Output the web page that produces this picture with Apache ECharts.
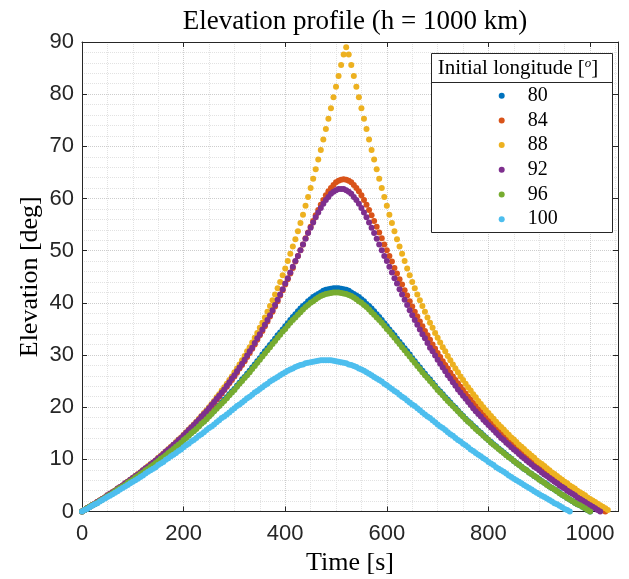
<!DOCTYPE html>
<html><head><meta charset="utf-8">
<script src="https://cdn.jsdelivr.net/npm/echarts@6/dist/echarts.min.js"></script>
<style>html,body{margin:0;padding:0;background:#fff}#c{width:629px;height:579px}</style>
</head><body><div id="c"></div>
<script>
const TITLE = 'Elevation profile (h = 1000 km)';
const X_NAME = 'Time [s]';
const Y_NAME = 'Elevation [deg]';
const X_TICKS = [0, 200, 400, 600, 800, 1000];
const Y_TICKS = [0, 10, 20, 30, 40, 50, 60, 70, 80, 90];
const LONGITUDES = ['80', '84', '88', '92', '96', '100'];
const COLORS = ['#0072BD', '#D95319', '#EDB120', '#7E2F8E', '#77AC30', '#4DBEEE'];

const TIME = [
0,5,10,15,20,25,30,35,40,45,50,55,60,65,70,75,80,85,90,95,
100,105,110,115,120,125,130,135,140,145,150,155,160,165,170,175,180,185,190,195,
200,205,210,215,220,225,230,235,240,245,250,255,260,265,270,275,280,285,290,295,
300,305,310,315,320,325,330,335,340,345,350,355,360,365,370,375,380,385,390,395,
400,405,410,415,420,425,430,435,440,445,450,455,460,465,470,475,480,485,490,495,
500,505,510,515,520,525,530,535,540,545,550,555,560,565,570,575,580,585,590,595,
600,605,610,615,620,625,630,635,640,645,650,655,660,665,670,675,680,685,690,695,
700,705,710,715,720,725,730,735,740,745,750,755,760,765,770,775,780,785,790,795,
800,805,810,815,820,825,830,835,840,845,850,855,860,865,870,875,880,885,890,895,
900,905,910,915,920,925,930,935,940,945,950,955,960,965,970,975,980,985,990,995,
1000,1005,1010,1015,1020,1025,1030,1035
];

const LON80 = [
0.0,0.3,0.6,0.9,1.2,1.4,1.7,2.0,2.3,2.6,
2.9,3.2,3.6,3.9,4.2,4.5,4.8,5.2,5.5,5.8,
6.2,6.5,6.8,7.2,7.5,7.9,8.2,8.6,9.0,9.3,
9.7,10.1,10.5,10.9,11.3,11.7,12.1,12.5,12.9,13.3,
13.7,14.2,14.6,15.1,15.5,16.0,16.4,16.9,17.3,17.8,
18.3,18.8,19.3,19.9,20.3,20.9,21.4,21.9,22.5,23.0,
23.5,24.1,24.7,25.3,25.8,26.4,27.0,27.6,28.2,28.8,
29.4,30.1,30.7,31.3,31.9,32.5,33.1,33.8,34.3,34.9,
35.5,36.1,36.7,37.3,37.8,38.4,38.9,39.4,39.8,40.3,
40.7,41.1,41.4,41.7,42.0,42.3,42.5,42.6,42.7,42.8,
42.8,
42.8,42.7,42.6,42.5,42.3,42.0,41.7,41.4,41.1,40.7,
40.3,39.8,39.4,38.9,38.4,37.8,37.3,36.7,36.1,35.5,
34.9,34.3,33.8,33.1,32.5,31.9,31.3,30.7,30.1,29.4,
28.8,28.2,27.6,27.0,26.4,25.8,25.3,24.7,24.1,23.5,
23.0,22.5,21.9,21.4,20.9,20.3,19.9,19.3,18.8,18.3,
17.8,17.3,16.9,16.4,16.0,15.5,15.1,14.6,14.2,13.7,
13.3,12.9,12.5,12.1,11.7,11.3,10.9,10.5,10.1,9.7,
9.3,9.0,8.6,8.2,7.9,7.5,7.2,6.8,6.5,6.2,
5.8,5.5,5.2,4.8,4.5,4.2,3.9,3.6,3.2,2.9,
2.6,2.3,2.0,1.7,1.4,1.2,0.9,0.6,0.3,0.0
];

const LON84 = [
0.0,0.3,0.6,
0.9,1.2,1.5,1.8,2.1,2.4,2.7,3.0,3.3,3.7,
4.0,4.3,4.6,5.0,5.3,5.7,6.0,6.4,6.7,7.1,
7.5,7.8,8.2,8.6,9.0,9.3,9.7,10.1,10.5,11.0,
11.4,11.8,12.2,12.7,13.1,13.6,14.0,14.5,15.0,15.4,
15.9,16.4,16.9,17.5,18.0,18.5,19.1,19.6,20.2,20.8,
21.4,22.0,22.6,23.3,23.9,24.6,25.2,25.9,26.6,27.4,
28.1,28.8,29.6,30.4,31.2,32.0,32.9,33.8,34.6,35.5,
36.4,37.4,38.3,39.3,40.3,41.4,42.4,43.5,44.5,45.6,
46.7,47.9,49.0,50.1,51.2,52.4,53.5,54.6,55.7,56.8,
57.8,58.8,59.7,60.6,61.4,62.0,62.6,63.1,63.4,63.6,
63.7,
63.6,63.4,63.1,62.6,62.0,61.4,60.6,59.7,58.8,57.8,
56.8,55.7,54.6,53.5,52.4,51.2,50.1,49.0,47.9,46.7,
45.6,44.5,43.5,42.4,41.4,40.3,39.3,38.3,37.4,36.4,
35.5,34.6,33.8,32.9,32.0,31.2,30.4,29.6,28.8,28.1,
27.4,26.6,25.9,25.2,24.6,23.9,23.3,22.6,22.0,21.4,
20.8,20.2,19.6,19.1,18.5,18.0,17.5,16.9,16.4,15.9,
15.4,15.0,14.5,14.0,13.6,13.1,12.7,12.2,11.8,11.4,
11.0,10.5,10.1,9.7,9.3,9.0,8.6,8.2,7.8,7.5,
7.1,6.7,6.4,6.0,5.7,5.3,5.0,4.6,4.3,4.0,
3.7,3.3,3.0,2.7,2.4,2.1,1.8,1.5,1.2,0.9,
0.6,0.3,0.0
];

const LON88 = [
0.0,0.3,0.6,0.9,1.2,1.5,1.8,2.1,2.4,2.7,
3.1,3.4,3.7,4.0,4.4,4.7,5.0,5.4,5.7,6.1,
6.4,6.8,7.2,7.5,7.9,8.3,8.7,9.1,9.4,9.8,
10.3,10.7,11.1,11.5,12.0,12.4,12.8,13.3,13.8,14.2,
14.7,15.2,15.7,16.2,16.7,17.2,17.8,18.3,18.9,19.4,
20.0,20.6,21.2,21.9,22.5,23.2,23.8,24.5,25.2,25.9,
26.7,27.4,28.2,29.0,29.8,30.7,31.5,32.4,33.3,34.2,
35.2,36.2,37.2,38.3,39.4,40.5,41.6,42.8,44.0,45.3,
46.6,48.0,49.4,50.8,52.2,53.7,55.3,56.9,58.6,60.3,
62.0,63.8,65.6,67.5,69.3,71.3,73.3,75.3,77.3,79.4,
81.4,83.5,85.6,87.6,
89.0,
87.6,85.6,83.5,81.4,79.4,77.3,75.3,73.3,71.3,69.3,
67.5,65.6,63.8,62.0,60.3,58.6,56.9,55.3,53.7,52.2,
50.8,49.4,48.0,46.6,45.3,44.0,42.8,41.6,40.5,39.4,
38.3,37.2,36.2,35.2,34.2,33.3,32.4,31.5,30.7,29.8,
29.0,28.2,27.4,26.7,25.9,25.2,24.5,23.8,23.2,22.5,
21.9,21.2,20.6,20.0,19.4,18.9,18.3,17.8,17.2,16.7,
16.2,15.7,15.2,14.7,14.2,13.8,13.3,12.8,12.4,12.0,
11.5,11.1,10.7,10.3,9.8,9.4,9.1,8.7,8.3,7.9,
7.5,7.2,6.8,6.4,6.1,5.7,5.4,5.0,4.7,4.4,
4.0,3.7,3.4,3.1,2.7,2.4,2.1,1.8,1.5,1.2,
0.9,0.6,0.3
];

const LON92 = [
0.0,0.3,
0.6,0.9,1.2,1.5,1.8,2.1,2.4,2.7,3.1,3.4,
3.7,4.0,4.4,4.7,5.0,5.4,5.7,6.1,6.4,6.8,
7.1,7.5,7.9,8.3,8.6,9.0,9.4,9.8,10.2,10.6,
11.0,11.5,11.9,12.3,12.8,13.2,13.7,14.1,14.6,15.1,
15.6,16.1,16.6,17.1,17.6,18.2,18.7,19.2,19.8,20.4,
21.0,21.6,22.2,22.8,23.4,24.1,24.8,25.5,26.1,26.9,
27.6,28.3,29.1,29.9,30.7,31.4,32.3,33.2,34.0,34.9,
35.8,36.7,37.6,38.6,39.6,40.6,41.6,42.6,43.7,44.7,
45.8,46.9,48.0,49.0,50.1,51.2,52.3,53.4,54.4,55.4,
56.4,57.3,58.2,59.0,59.7,60.3,60.9,61.3,61.6,61.8,
61.8,
61.8,61.6,61.3,60.9,60.3,59.7,59.0,58.2,57.3,56.4,
55.4,54.4,53.4,52.3,51.2,50.1,49.0,48.0,46.9,45.8,
44.7,43.7,42.6,41.6,40.6,39.6,38.6,37.6,36.7,35.8,
34.9,34.0,33.2,32.3,31.4,30.7,29.9,29.1,28.3,27.6,
26.9,26.1,25.5,24.8,24.1,23.4,22.8,22.2,21.6,21.0,
20.4,19.8,19.2,18.7,18.2,17.6,17.1,16.6,16.1,15.6,
15.1,14.6,14.1,13.7,13.2,12.8,12.3,11.9,11.5,11.0,
10.6,10.2,9.8,9.4,9.0,8.6,8.3,7.9,7.5,7.1,
6.8,6.4,6.1,5.7,5.4,5.0,4.7,4.4,4.0,3.7,
3.4,3.1,2.7,2.4,2.1,1.8,1.5,1.2,0.9,0.6,
0.3,0.0
];

const LON96 = [
0.0,0.3,0.6,0.9,1.2,1.4,1.7,2.0,2.3,2.6,
2.9,3.2,3.5,3.9,4.2,4.5,4.8,5.1,5.5,5.8,
6.1,6.5,6.8,7.2,7.5,7.9,8.2,8.6,8.9,9.3,
9.7,10.1,10.4,10.8,11.2,11.6,12.0,12.4,12.8,13.2,
13.7,14.1,14.5,15.0,15.4,15.8,16.3,16.8,17.2,17.7,
18.2,18.7,19.2,19.7,20.2,20.7,21.2,21.7,22.3,22.8,
23.3,23.9,24.5,25.0,25.6,26.1,26.7,27.3,27.9,28.5,
29.1,29.7,30.3,30.9,31.5,32.1,32.7,33.3,33.9,34.5,
35.0,35.6,36.2,36.7,37.2,37.7,38.2,38.7,39.2,39.6,
40.0,40.3,40.7,41.0,41.3,41.5,41.7,41.8,41.9,42.0,
42.0,
42.0,41.9,41.8,41.7,41.5,41.3,41.0,40.7,40.3,40.0,
39.6,39.2,38.7,38.2,37.7,37.2,36.7,36.2,35.6,35.0,
34.5,33.9,33.3,32.7,32.1,31.5,30.9,30.3,29.7,29.1,
28.5,27.9,27.3,26.7,26.1,25.6,25.0,24.5,23.9,23.3,
22.8,22.3,21.7,21.2,20.7,20.2,19.7,19.2,18.7,18.2,
17.7,17.2,16.8,16.3,15.8,15.4,15.0,14.5,14.1,13.7,
13.2,12.8,12.4,12.0,11.6,11.2,10.8,10.4,10.1,9.7,
9.3,8.9,8.6,8.2,7.9,7.5,7.2,6.8,6.5,6.1,
5.8,5.5,5.1,4.8,4.5,4.2,3.9,3.5,3.2,2.9,
2.6,2.3,2.0,1.7,1.4,1.2,0.9,0.6,0.3,0.0
];

const LON100 = [
0.0,0.3,0.5,0.8,1.1,1.4,
1.6,1.9,2.2,2.5,2.8,3.0,3.3,3.6,3.9,4.2,
4.5,4.8,5.1,5.4,5.7,6.0,6.3,6.6,6.9,7.3,
7.6,7.9,8.2,8.5,8.9,9.2,9.5,9.9,10.2,10.6,
10.9,11.2,11.6,11.9,12.3,12.7,13.0,13.4,13.7,14.1,
14.5,14.8,15.2,15.6,16.0,16.3,16.7,17.1,17.5,17.9,
18.2,18.6,19.0,19.4,19.8,20.2,20.5,20.9,21.3,21.7,
22.0,22.4,22.8,23.1,23.5,23.8,24.2,24.5,24.9,25.2,
25.5,25.8,26.1,26.4,26.7,27.0,27.2,27.4,27.7,27.9,
28.1,28.2,28.4,28.5,28.6,28.7,28.8,28.9,29.0,29.0,
29.0,
29.0,29.0,28.9,28.8,28.7,28.6,28.5,28.4,28.2,28.1,
27.9,27.7,27.4,27.2,27.0,26.7,26.4,26.1,25.8,25.5,
25.2,24.9,24.5,24.2,23.8,23.5,23.1,22.8,22.4,22.0,
21.7,21.3,20.9,20.5,20.2,19.8,19.4,19.0,18.6,18.2,
17.9,17.5,17.1,16.7,16.3,16.0,15.6,15.2,14.8,14.5,
14.1,13.7,13.4,13.0,12.7,12.3,11.9,11.6,11.2,10.9,
10.6,10.2,9.9,9.5,9.2,8.9,8.5,8.2,7.9,7.6,
7.3,6.9,6.6,6.3,6.0,5.7,5.4,5.1,4.8,4.5,
4.2,3.9,3.6,3.3,3.0,2.8,2.5,2.2,1.9,1.6,
1.4,1.1,0.8,0.5,0.3,0.0
];

const SERIES_VALUES = [LON80, LON84, LON88, LON92, LON96, LON100];

const SERIF = 'Liberation Serif';
const SANS = 'Liberation Sans';
const AX = '#262626';

const chart = echarts.init(document.getElementById('c'), null, {renderer: 'canvas'});

function baseAxisCommon() {
  return {
    axisLine: {show: true, onZero: false, lineStyle: {color: AX, width: 1}},
    axisTick: {show: true, inside: true, length: 5, lineStyle: {color: AX, width: 1}}
  };
}

const option = {
  animation: false,
  backgroundColor: '#ffffff',
  title: {
    text: TITLE, left: 350, top: 3, textAlign: 'center', padding: 5,
    textStyle: {fontFamily: SERIF, fontSize: 27, fontWeight: 'normal', color: '#000'}
  },
  grid: {left: 82, right: 11, top: 42, bottom: 67.5, containLabel: false, outerBoundsMode: 'none'},
  xAxis: [
    Object.assign(baseAxisCommon(), {
      type: 'value', min: 0, max: 1055, interval: 200, position: 'bottom',
      axisLabel: {
        show: true, margin: 11, fontFamily: SANS, fontSize: 22, color: AX,
        formatter: v => X_TICKS.includes(v) ? String(v) : ''
      },
      splitLine: {show: true, lineStyle: {type: 'dotted', color: '#cdcdcd', width: 1}},
      minorTick: {show: false, splitNumber: 4},
      minorSplitLine: {show: true, lineStyle: {type: 'dotted', color: '#e2e2e2', width: 1}},
      name: X_NAME, nameLocation: 'middle', nameGap: 39, nameMoveOverlap: false,
      nameTextStyle: {fontFamily: SERIF, fontSize: 26, color: '#000'}
    }),
    Object.assign(baseAxisCommon(), {
      type: 'value', min: 0, max: 1055, interval: 200, position: 'top',
      axisLabel: {show: false}, splitLine: {show: false}, minorSplitLine: {show: false}
    })
  ],
  yAxis: [
    Object.assign(baseAxisCommon(), {
      type: 'value', min: 0, max: 90, interval: 10, position: 'left',
      axisLabel: {
        show: true, margin: 8, fontFamily: SANS, fontSize: 22, color: AX,
        formatter: v => Y_TICKS.includes(v) ? String(v) : ''
      },
      splitLine: {show: true, lineStyle: {type: 'dotted', color: '#cdcdcd', width: 1}},
      minorTick: {show: false, splitNumber: 5},
      minorSplitLine: {show: true, lineStyle: {type: 'dotted', color: '#e2e2e2', width: 1}},
      name: Y_NAME, nameLocation: 'middle', nameGap: 39, nameMoveOverlap: false,
      nameTextStyle: {fontFamily: SERIF, fontSize: 26, color: '#000'}
    }),
    Object.assign(baseAxisCommon(), {
      type: 'value', min: 0, max: 90, interval: 10, position: 'right',
      axisLabel: {show: false}, splitLine: {show: false}, minorSplitLine: {show: false}
    })
  ],
  legend: {
    orient: 'vertical', left: 498.7, top: 85.7, padding: 0, z: 6,
    itemWidth: 6, itemHeight: 6, itemGap: 4.7, icon: 'circle', selectedMode: false,
    textStyle: {fontFamily: SERIF, fontSize: 20, color: '#000', lineHeight: 20, padding: [0, 0, 0, 18]},
    data: LONGITUDES
  },
  graphic: [
    {type: 'rect', z: 3, silent: true,
     shape: {x: 431.5, y: 53.5, width: 181, height: 179},
     style: {fill: '#ffffff', stroke: AX, lineWidth: 1}},
    {type: 'line', z: 5, silent: true,
     shape: {x1: 431.5, y1: 82.5, x2: 612.5, y2: 82.5},
     style: {stroke: AX, lineWidth: 1}},
    {type: 'text', z: 5, silent: true, x: 518, y: 68,
     style: {
       text: '{a|Initial longitude [}{s|o}{a|]}',
       align: 'center', verticalAlign: 'middle',
       rich: {
         a: {fontFamily: SERIF, fontSize: 21, fill: '#000', color: '#000'},
         s: {fontFamily: SERIF, fontSize: 13, fontStyle: 'italic', fill: '#000', color: '#000', verticalAlign: 'top'}
       }
     }}
  ],
  series: LONGITUDES.map((name, k) => ({
    type: 'scatter', name: name,
    data: SERIES_VALUES[k].map((v, i) => [TIME[i], v]),
    symbol: 'circle', symbolSize: 6,
    itemStyle: {color: COLORS[k], opacity: 1},
    emphasis: {disabled: true},
    xAxisIndex: 0, yAxisIndex: 0
  }))
};
chart.setOption(option);
</script>
</body></html>
